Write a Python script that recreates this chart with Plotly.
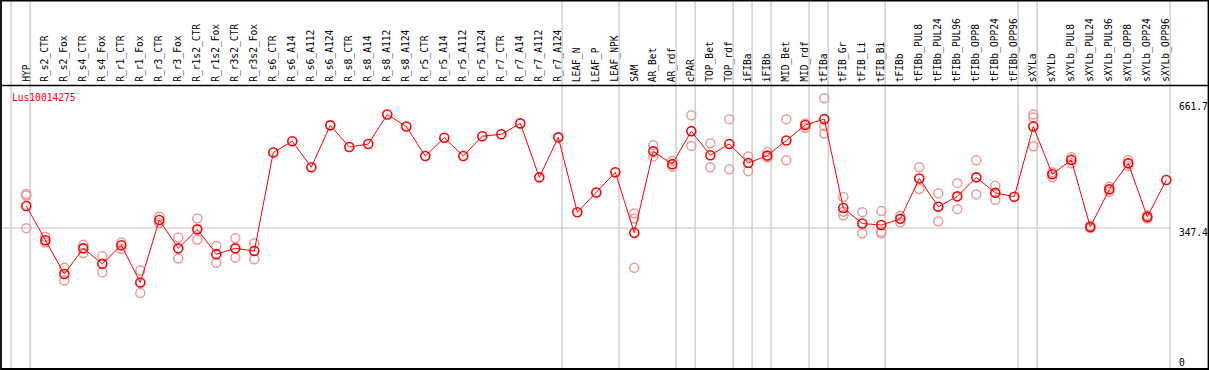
import plotly.graph_objects as go

W, H = 1209, 370

categories = ["HYP", "R_s2_CTR", "R_s2_Fox", "R_s4_CTR", "R_s4_Fox", "R_r1_CTR", "R_r1_Fox",
              "R_r3_CTR", "R_r3_Fox", "R_r1s2_CTR", "R_r1s2_Fox", "R_r3s2_CTR", "R_r3s2_Fox",
              "R_s6_CTR", "R_s6_A14", "R_s6_A112", "R_s6_A124", "R_s8_CTR", "R_s8_A14",
              "R_s8_A112", "R_s8_A124", "R_r5_CTR", "R_r5_A14", "R_r5_A112", "R_r5_A124",
              "R_r7_CTR", "R_r7_A14", "R_r7_A112", "R_r7_A124", "LEAF_N", "LEAF_P", "LEAF_NPK",
              "SAM", "AR_Bet", "AR_rdf", "cPAR", "TOP_Bet", "TOP_rdf", "iFIBa", "iFIBb",
              "MID_Bet", "MID_rdf", "tFIBa", "tFIB_Gr", "tFIB_Li", "tFIB_Bi", "tFIBb",
              "tFIBb_PUL8", "tFIBb_PUL24", "tFIBb_PUL96", "tFIBb_OPP8", "tFIBb_OPP24",
              "tFIBb_OPP96", "sXYLa", "sXYLb", "sXYLb_PUL8", "sXYLb_PUL24", "sXYLb_PUL96",
              "sXYLb_OPP8", "sXYLb_OPP24", "sXYLb_OPP96"]

mean_values = [404, 316, 229, 295, 255, 303, 207, 368, 295, 344, 280, 295, 288,
               542, 571, 504, 612, 556, 564, 640, 609, 533, 580, 533, 584,
               589, 617, 478, 581, 388, 439, 491,
               335, 545, 512, 597, 535, 564, 515, 534, 573, 613, 628,
               399, 359, 355, 371, 475, 402, 429, 478, 438, 428,
               609, 486, 523, 350, 447, 514, 376, 471]

N = None
rep1 = [435, 325, 245, 304, 275, 310, 238, 377, 323, 372, 301, 321, 308,
        N, N, N, N, N, N, N, N, N, N, N, N, N, N, N, N, N, N, N,
        385, 561, 520, 638, 566, 628, 532, 543, 628, 617, 682,
        427, 388, 391, 379, 504, 437, 463, 522, 456, N,
        640, 491, 530, 353, 454, 523, 380, N]
rep2 = [431, 310, 212, 283, 233, 293, 180, 360, 269, 318, 258, 271, 267,
        N, N, N, N, N, N, N, N, N, N, N, N, N, N, N, N, N, N, N,
        372, 532, 505, 559, 504, 499, 494, 529, 522, 606, 610,
        389, 334, 338, 362, 448, 365, 396, 434, 420, N,
        632, 478, 514, 347, 441, 507, 372, N]
rep3 = [347, N, N, N, N, N, N, N, N, N, N, N, N,
        N, N, N, N, N, N, N, N, N, N, N, N, N, N, N, N, N, N, N,
        245, N, N, N, N, N, N, N, N, N, 591,
        380, N, 334, N, N, N, N, N, N, N,
        558, N, N, N, N, N, N, N]

axis_ticks = [661.7, 347.4, 0]
axis_tick_text = ["661.7", "347.4", "0"]
group_after = [-1, 0, 28, 31, 34, 35, 37, 38, 39, 41, 42, 45, 52, 53, 60]
gene_name = "Lus10014275"

# pixel geometry
px_per_cat = 19.0
x0_px = 26.3
xa = -x0_px / px_per_cat
xb = xa + W / px_per_cat
y0_px = 362.8
k = 0.388
ya = (y0_px - H) / k
yb = y0_px / k

idx = list(range(len(categories)))
MONO = "DejaVu Sans Mono"
REP = "#ee9a9a"
FS = 9.6

fig = go.Figure()
for reps in (rep1, rep2, rep3):
    fig.add_trace(go.Scatter(x=idx, y=reps, mode="markers",
                             marker=dict(symbol="circle-open", size=9, color=REP,
                                         line=dict(width=1.5, color=REP)),
                             hoverinfo="skip", showlegend=False))
fig.add_trace(go.Scatter(x=idx, y=mean_values, mode="lines+markers",
                         line=dict(color="#ff0000", width=1),
                         marker=dict(symbol="circle-open", size=9, color="#ff0000",
                                     line=dict(width=1.6, color="#ff0000")),
                         showlegend=False))

shapes = []
for g in group_after:
    shapes.append(dict(type="line", xref="x", yref="paper", x0=g + 0.2, x1=g + 0.2,
                       y0=0, y1=1, line=dict(color="#c4c4c4", width=1.2), layer="below"))
shapes.append(dict(type="line", xref="paper", yref="y", x0=0, x1=(60.2 - xa) / (xb - xa),
                   y0=axis_ticks[1], y1=axis_ticks[1],
                   line=dict(color="#c4c4c4", width=1.2), layer="below"))
hy = 1 - 85.5 / H
shapes.append(dict(type="line", xref="paper", yref="paper", x0=0, x1=1, y0=hy, y1=hy,
                   line=dict(color="black", width=1.5)))
shapes.append(dict(type="rect", xref="paper", yref="paper", x0=1.0 / W, x1=1 - 0.5 / W,
                   y0=1.0 / H, y1=1 - 0.5 / H, line=dict(color="black", width=1.8)))

annotations = []
lab_y = 1 - 84 / H
for i, c in enumerate(categories):
    annotations.append(dict(x=i - 0.03, y=lab_y, xref="x", yref="paper", text=c,
                            textangle=-90, showarrow=False, xanchor="center",
                            yanchor="bottom", font=dict(family=MONO, size=FS, color="black")))
annotations.append(dict(x=10 / W, y=1 - 97 / H, xref="paper", yref="paper", text=gene_name,
                        showarrow=False, xanchor="left", yanchor="middle",
                        font=dict(family=MONO, size=FS, color="#ff0000")))
shifts = [0, -4, 0]
for v, t, s in zip(axis_ticks, axis_tick_text, shifts):
    annotations.append(dict(x=1177 / W, y=v, xref="paper", yref="y", text=t, showarrow=False,
                            xanchor="left", yanchor="middle", yshift=s,
                            font=dict(family=MONO, size=FS, color="black")))

fig.update_layout(
    width=W, height=H, margin=dict(l=0, r=0, t=0, b=0),
    paper_bgcolor="white", plot_bgcolor="white",
    xaxis=dict(range=[xa, xb], visible=False, showgrid=False, zeroline=False),
    yaxis=dict(range=[ya, yb], visible=False, showgrid=False, zeroline=False),
    shapes=shapes, annotations=annotations,
)
fig.write_html("out.html", config={"displayModeBar": False},
               post_script="document.body.style.margin='0';document.body.style.overflow='hidden';")
